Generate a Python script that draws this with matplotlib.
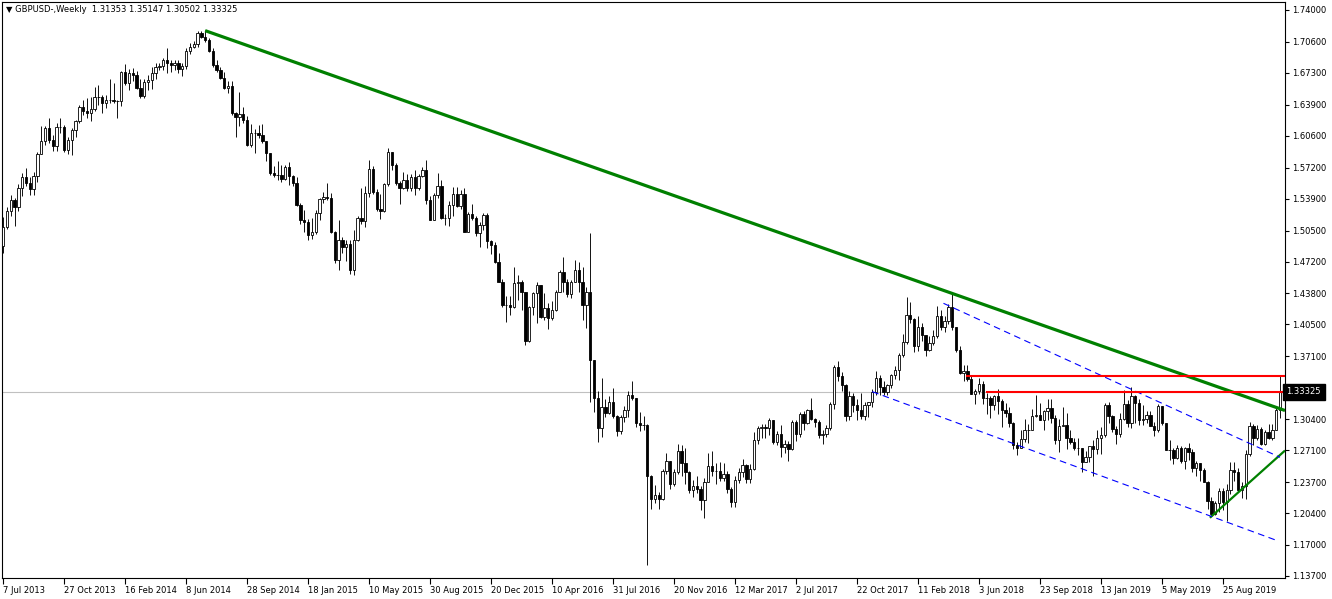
import numpy as np
import matplotlib
matplotlib.use('Agg')
import matplotlib.pyplot as plt
from matplotlib.transforms import blended_transform_factory

# GBPUSD weekly bars, first bar = week of 7 Jul 2013, last = week of 8 Dec 2019
first_open = 1.4885

closes = [
    1.5090, 1.5255, 1.5375, 1.5300, 1.5500, 1.5620, 1.5560, 1.5495, 1.5630, 1.5870,
    1.6000, 1.6140, 1.6015, 1.5950, 1.6155, 1.6150, 1.5910, 1.6015, 1.6120, 1.6215,
    1.6365, 1.6320, 1.6300, 1.6340, 1.6475, 1.6470, 1.6410, 1.6445, 1.6440, 1.6430,
    1.6430, 1.6740, 1.6620, 1.6725, 1.6710, 1.6570, 1.6480, 1.6635, 1.6655, 1.6725,
    1.6795, 1.6800, 1.6870, 1.6835, 1.6815, 1.6835, 1.6770, 1.6800, 1.6960, 1.7010,
    1.7035, 1.7150, 1.7115, 1.7080, 1.6960, 1.6815, 1.6765, 1.6675, 1.6565, 1.6590,
    1.6300, 1.6265, 1.6290, 1.6230, 1.5965, 1.6085, 1.6085, 1.6070, 1.6000, 1.5875,
    1.5660, 1.5645, 1.5640, 1.5595, 1.5730, 1.5630, 1.5555, 1.5325, 1.5160, 1.5145,
    1.5005, 1.5035, 1.5235, 1.5390, 1.5405, 1.5395, 1.5040, 1.4735, 1.4950, 1.4880,
    1.4905, 1.4630, 1.4950, 1.5180, 1.5150, 1.5450, 1.5710, 1.5465, 1.5285, 1.5255,
    1.5550, 1.5890, 1.5750, 1.5555, 1.5505, 1.5590, 1.5505, 1.5620, 1.5505, 1.5630,
    1.5695, 1.5380, 1.5165, 1.5430, 1.5520, 1.5185, 1.5180, 1.5320, 1.5440, 1.5310,
    1.5440, 1.5040, 1.5230, 1.5185, 1.5020, 1.5110, 1.5215, 1.4935, 1.4900, 1.4720,
    1.4505, 1.4260, 1.4260, 1.4240, 1.4490, 1.4505, 1.4400, 1.3870, 1.4235, 1.4380,
    1.4470, 1.4130, 1.4220, 1.4120, 1.4205, 1.4400, 1.4610, 1.4505, 1.4370, 1.4505,
    1.4630, 1.4505, 1.4260, 1.4400, 1.3670, 1.3265, 1.2945, 1.3175, 1.3105, 1.3225,
    1.3070, 1.2910, 1.3065, 1.3140, 1.3300, 1.3265, 1.3000, 1.2980, 1.2975, 1.2430,
    1.2190, 1.2230, 1.2190, 1.2485, 1.2600, 1.2345, 1.2475, 1.2700, 1.2570, 1.2480,
    1.2285, 1.2330, 1.2300, 1.2180, 1.2375, 1.2540, 1.2485, 1.2490, 1.2410, 1.2460,
    1.2300, 1.2160, 1.2395, 1.2480, 1.2550, 1.2400, 1.2515, 1.2820, 1.2945, 1.2960,
    1.2950, 1.3030, 1.2800, 1.2885, 1.2745, 1.2780, 1.2720, 1.3015, 1.2885, 1.3100,
    1.2995, 1.3135, 1.3040, 1.3010, 1.2875, 1.2880, 1.2945, 1.3200, 1.3600, 1.3500,
    1.3400, 1.3070, 1.3285, 1.3190, 1.3135, 1.3075, 1.3190, 1.3220, 1.3330, 1.3475,
    1.3380, 1.3335, 1.3400, 1.3510, 1.3565, 1.3720, 1.3860, 1.4150, 1.4110, 1.3820,
    1.4025, 1.3935, 1.3780, 1.3850, 1.3930, 1.4140, 1.4020, 1.4085, 1.4235, 1.4020,
    1.3775, 1.3530, 1.3550, 1.3465, 1.3310, 1.3340, 1.3410, 1.3270, 1.3265, 1.3195,
    1.3285, 1.3235, 1.3140, 1.3105, 1.3000, 1.2765, 1.2735, 1.2830, 1.2930, 1.2925,
    1.3070, 1.3085, 1.3035, 1.3130, 1.3160, 1.3050, 1.2815, 1.2970, 1.2975, 1.2835,
    1.2800, 1.2735, 1.2730, 1.2585, 1.2635, 1.2755, 1.2720, 1.2840, 1.2875, 1.3195,
    1.3070, 1.2940, 1.2885, 1.3045, 1.3200, 1.3000, 1.3290, 1.3210, 1.3030, 1.3045,
    1.3080, 1.2970, 1.2920, 1.3185, 1.3005, 1.2715, 1.2715, 1.2625, 1.2735, 1.2595,
    1.2730, 1.2695, 1.2525, 1.2575, 1.2495, 1.2375, 1.2165, 1.2030, 1.2145, 1.2280,
    1.2160, 1.2285, 1.2500, 1.2475, 1.2290, 1.2330, 1.2670, 1.2970, 1.2835, 1.2940,
    1.2775, 1.2900, 1.2835, 1.2930, 1.31353, 1.33325,
]

highs = [
    1.5195, 1.5300, 1.5430, 1.5400, 1.5550, 1.5660, 1.5715, 1.5625, 1.5675, 1.5890,
    1.6160, 1.6160, 1.6250, 1.6070, 1.6200, 1.6250, 1.6170, 1.6050, 1.6140, 1.6230,
    1.6385, 1.6445, 1.6460, 1.6475, 1.6580, 1.6600, 1.6495, 1.6495, 1.6660, 1.6620,
    1.6440, 1.6750, 1.6820, 1.6770, 1.6780, 1.6745, 1.6670, 1.6660, 1.6710, 1.6795,
    1.6840, 1.6840, 1.6885, 1.6995, 1.6865, 1.6870, 1.6870, 1.6835, 1.6990, 1.7045,
    1.7065, 1.7180, 1.7180, 1.7190, 1.7100, 1.6990, 1.6870, 1.6790, 1.6740, 1.6640,
    1.6640, 1.6310, 1.6525, 1.6370, 1.6270, 1.6185, 1.6130, 1.6175, 1.6190, 1.6000,
    1.5880, 1.5735, 1.5790, 1.5750, 1.5750, 1.5785, 1.5645, 1.5620, 1.5340, 1.5270,
    1.5175, 1.5180, 1.5270, 1.5400, 1.5465, 1.5555, 1.5450, 1.5050, 1.5165, 1.4985,
    1.4945, 1.4945, 1.5055, 1.5200, 1.5500, 1.5520, 1.5800, 1.5740, 1.5490, 1.5440,
    1.5560, 1.5930, 1.5890, 1.5770, 1.5580, 1.5670, 1.5650, 1.5650, 1.5690, 1.5650,
    1.5730, 1.5800, 1.5420, 1.5450, 1.5660, 1.5590, 1.5230, 1.5360, 1.5510, 1.5510,
    1.5480, 1.5500, 1.5250, 1.5335, 1.5200, 1.5140, 1.5240, 1.5240, 1.4950, 1.4925,
    1.4810, 1.4530, 1.4350, 1.4355, 1.4665, 1.4575, 1.4520, 1.4400, 1.4245, 1.4400,
    1.4500, 1.4460, 1.4390, 1.4280, 1.4300, 1.4420, 1.4630, 1.4770, 1.4530, 1.4520,
    1.4735, 1.4720, 1.4665, 1.4450, 1.5020, 1.3530, 1.3340, 1.3480, 1.3260, 1.3290,
    1.3370, 1.3090, 1.3080, 1.3185, 1.3345, 1.3445, 1.3270, 1.3120, 1.3070, 1.2985,
    1.2445, 1.2340, 1.2260, 1.2515, 1.2675, 1.2600, 1.2515, 1.2780, 1.2770, 1.2730,
    1.2485, 1.2390, 1.2430, 1.2330, 1.2415, 1.2675, 1.2705, 1.2570, 1.2580, 1.2570,
    1.2490, 1.2315, 1.2435, 1.2525, 1.2615, 1.2560, 1.2560, 1.2905, 1.2965, 1.2990,
    1.2990, 1.3050, 1.3030, 1.2910, 1.2975, 1.2815, 1.2810, 1.3030, 1.3030, 1.3115,
    1.3125, 1.3150, 1.3265, 1.3050, 1.3030, 1.2930, 1.2980, 1.3225, 1.3615, 1.3660,
    1.3540, 1.3415, 1.3340, 1.3320, 1.3260, 1.3320, 1.3225, 1.3225, 1.3365, 1.3550,
    1.3510, 1.3450, 1.3420, 1.3520, 1.3610, 1.3745, 1.3945, 1.4345, 1.4285, 1.4120,
    1.4145, 1.4070, 1.3930, 1.3930, 1.3995, 1.4245, 1.4200, 1.4145, 1.4265, 1.4377,
    1.4020, 1.3820, 1.3615, 1.3615, 1.3510, 1.3365, 1.3475, 1.3445, 1.3315, 1.3285,
    1.3300, 1.3365, 1.3260, 1.3215, 1.3175, 1.3010, 1.2800, 1.2930, 1.3045, 1.2990,
    1.3145, 1.3300, 1.3215, 1.3140, 1.3255, 1.3260, 1.3080, 1.3045, 1.3175, 1.3110,
    1.2925, 1.2840, 1.2840, 1.2670, 1.2705, 1.2760, 1.2815, 1.2930, 1.2960, 1.3215,
    1.3220, 1.3090, 1.2965, 1.3110, 1.3350, 1.3245, 1.3380, 1.3300, 1.3260, 1.3195,
    1.3130, 1.3125, 1.3015, 1.3200, 1.3175, 1.3005, 1.2815, 1.2735, 1.2765, 1.2760,
    1.2745, 1.2785, 1.2720, 1.2600, 1.2575, 1.2520, 1.2380, 1.2210, 1.2170, 1.2310,
    1.2310, 1.2350, 1.2580, 1.2580, 1.2520, 1.2375, 1.2710, 1.3010, 1.2990, 1.2975,
    1.2955, 1.2925, 1.2985, 1.2985, 1.3180, 1.35147,
]

lows = [
    1.4813, 1.5070, 1.5200, 1.5100, 1.5260, 1.5420, 1.5530, 1.5425, 1.5425, 1.5570,
    1.5880, 1.5960, 1.5980, 1.5900, 1.5900, 1.6090, 1.5890, 1.5870, 1.5855, 1.6050,
    1.6200, 1.6280, 1.6245, 1.6215, 1.6320, 1.6390, 1.6300, 1.6355, 1.6410, 1.6405,
    1.6250, 1.6380, 1.6600, 1.6545, 1.6640, 1.6560, 1.6460, 1.6460, 1.6550, 1.6560,
    1.6660, 1.6760, 1.6760, 1.6730, 1.6735, 1.6760, 1.6730, 1.6695, 1.6770, 1.6935,
    1.6995, 1.7010, 1.7100, 1.7060, 1.6950, 1.6790, 1.6740, 1.6660, 1.6560, 1.6520,
    1.6280, 1.6050, 1.6160, 1.6200, 1.5950, 1.5940, 1.5875, 1.6040, 1.5980, 1.5790,
    1.5640, 1.5620, 1.5590, 1.5570, 1.5585, 1.5540, 1.5525, 1.5310, 1.5125, 1.5035,
    1.4950, 1.4965, 1.5010, 1.5160, 1.5340, 1.5375, 1.5020, 1.4700, 1.4630, 1.4810,
    1.4730, 1.4590, 1.4580, 1.4940, 1.5120, 1.5090, 1.5410, 1.5440, 1.5260, 1.5170,
    1.5250, 1.5530, 1.5700, 1.5540, 1.5330, 1.5490, 1.5470, 1.5470, 1.5430, 1.5480,
    1.5620, 1.5330, 1.5160, 1.5160, 1.5400, 1.5170, 1.5110, 1.5100, 1.5200, 1.5300,
    1.5280, 1.5030, 1.5030, 1.5160, 1.4990, 1.4880, 1.5060, 1.4865, 1.4805, 1.4700,
    1.4500, 1.4235, 1.4080, 1.4150, 1.4230, 1.4310, 1.4205, 1.3835, 1.3860, 1.4150,
    1.4060, 1.4120, 1.4100, 1.4005, 1.4100, 1.4190, 1.4400, 1.4400, 1.4340, 1.4335,
    1.4500, 1.4400, 1.4100, 1.4015, 1.3225, 1.3120, 1.2800, 1.2855, 1.3060, 1.3100,
    1.3050, 1.2865, 1.2880, 1.3010, 1.3060, 1.3240, 1.2960, 1.2915, 1.2920, 1.1490,
    1.2085, 1.2145, 1.2085, 1.2180, 1.2455, 1.2300, 1.2330, 1.2460, 1.2430, 1.2355,
    1.2255, 1.2215, 1.2250, 1.2070, 1.1990, 1.2370, 1.2430, 1.2345, 1.2385, 1.2380,
    1.2250, 1.2110, 1.2110, 1.2360, 1.2420, 1.2365, 1.2365, 1.2500, 1.2775, 1.2840,
    1.2845, 1.2870, 1.2775, 1.2770, 1.2635, 1.2680, 1.2590, 1.2710, 1.2810, 1.2850,
    1.2930, 1.2985, 1.3030, 1.2955, 1.2840, 1.2775, 1.2850, 1.2920, 1.3150, 1.3450,
    1.3340, 1.3025, 1.3030, 1.3120, 1.3030, 1.3040, 1.3035, 1.3060, 1.3175, 1.3300,
    1.3300, 1.3300, 1.3300, 1.3370, 1.3470, 1.3460, 1.3700, 1.3840, 1.4060, 1.3760,
    1.3765, 1.3875, 1.3710, 1.3765, 1.3830, 1.3910, 1.3990, 1.3965, 1.4050, 1.3990,
    1.3760, 1.3520, 1.3450, 1.3445, 1.3305, 1.3205, 1.3310, 1.3205, 1.3100, 1.3050,
    1.3140, 1.3100, 1.2955, 1.3060, 1.2955, 1.2725, 1.2660, 1.2735, 1.2795, 1.2785,
    1.2920, 1.3060, 1.3030, 1.2920, 1.3035, 1.3005, 1.2780, 1.2695, 1.2965, 1.2725,
    1.2780, 1.2715, 1.2660, 1.2475, 1.2580, 1.2580, 1.2440, 1.2665, 1.2670, 1.2850,
    1.3000, 1.2900, 1.2775, 1.2855, 1.3030, 1.2960, 1.2945, 1.3005, 1.2975, 1.2975,
    1.3000, 1.2965, 1.2865, 1.2905, 1.2975, 1.2710, 1.2605, 1.2560, 1.2620, 1.2575,
    1.2505, 1.2605, 1.2480, 1.2440, 1.2380, 1.2370, 1.2080, 1.2015, 1.2015, 1.2055,
    1.2070, 1.1960, 1.2240, 1.2380, 1.2270, 1.2205, 1.2195, 1.2650, 1.2770, 1.2820,
    1.2765, 1.2770, 1.2825, 1.2820, 1.2920, 1.30502,
]

date_labels = ['7 Jul 2013', '27 Oct 2013', '16 Feb 2014', '8 Jun 2014',
               '28 Sep 2014', '18 Jan 2015', '10 May 2015', '30 Aug 2015',
               '20 Dec 2015', '10 Apr 2016', '31 Jul 2016', '20 Nov 2016',
               '12 Mar 2017', '2 Jul 2017', '22 Oct 2017', '11 Feb 2018',
               '3 Jun 2018', '23 Sep 2018', '13 Jan 2019', '5 May 2019',
               '25 Aug 2019']
price_ticks = [1.74, 1.706, 1.673, 1.639, 1.606, 1.572, 1.539, 1.505, 1.472,
               1.438, 1.405, 1.371, 1.338, 1.304, 1.271, 1.237, 1.204, 1.17,
               1.137]

# drawn objects: (bar index, price)
main_trend = [(53, 1.7180), (249, 1.4380)]
support_trend = [(316.6, 1.1990), (325.4, 1.2310)]
chan_upper = [(246.7, 1.4275), (335.0, 1.2634)]
chan_lower = [(228.0, 1.3334), (334.5, 1.1743)]
red_levels = [(252.9, 1.3500), (258.0, 1.3325)]

closes = np.array(closes)
opens = np.r_[first_open, closes[:-1]]
highs = np.maximum(np.array(highs), np.maximum(opens, closes))
lows = np.minimum(np.array(lows), np.minimum(opens, closes))
last_o, last_h, last_l, last_c = opens[-1], highs[-1], lows[-1], closes[-1]

W, H = 1332, 599
fig = plt.figure(figsize=(W / 100, H / 100), dpi=100)
ax = fig.add_axes([2 / W, 21 / H, 1283 / W, 576 / H])

x_left, x_right = -0.3, 336.3
ax.set_xlim(x_left, x_right)
ax.set_ylim(1.13484, 1.74852)

x = np.arange(len(closes))
up = closes >= opens
ax.axhline(last_c, color='#c0c0c0', lw=0.8, zorder=1)
ax.vlines(x, lows, highs, color='black', lw=0.65, zorder=2)
ax.bar(x[up], (closes - opens)[up], bottom=opens[up], width=0.62,
       color='white', edgecolor='black', linewidth=0.6, zorder=3)
ax.bar(x[~up], (closes - opens)[~up], bottom=opens[~up], width=0.62,
       color='black', edgecolor='black', linewidth=0.6, zorder=3)


def ray(p0, p1, x_end):
    (x0, y0), (x1, y1) = p0, p1
    slope = (y1 - y0) / (x1 - x0)
    return [x0, x_end], [y0, y0 + slope * (x_end - x0)]


xs, ys = ray(main_trend[0], main_trend[1], x_right)
ax.plot(xs, ys, color='#008000', lw=2.3, zorder=4, solid_capstyle='butt')
xs, ys = ray(support_trend[0], support_trend[1], x_right)
ax.plot(xs, ys, color='#008000', lw=1.6, zorder=4, solid_capstyle='butt')

for (x0, y0), (x1, y1) in (chan_upper, chan_lower):
    ax.plot([x0, x1], [y0, y1], color='#0000ff', lw=0.8,
            ls=(0, (6, 4)), zorder=4)

for x0, lvl in red_levels:
    ax.plot([x0, x_right], [lvl, lvl], color='#ff0000', lw=1.5, zorder=4)

# axes, ticks and labels in MT4 style
for sp in ax.spines.values():
    sp.set_color('black')
    sp.set_linewidth(0.8)

# the 1.33800 scale label sits under the current-price marker, so only its tick shows
hidden_price = 1.338
ax.yaxis.tick_right()
ax.set_yticks(price_ticks)
ax.set_yticklabels(['' if p == hidden_price else '%.5f' % p
                    for p in price_ticks])
ax.tick_params(axis='y', direction='out', length=3, width=0.8, pad=2,
               labelsize=6, colors='black')

ax.set_xticks(np.arange(0, 16 * len(date_labels), 16))
ax.set_xticklabels(date_labels)
ax.tick_params(axis='x', direction='out', length=4, width=0.8, pad=1.5,
               labelsize=6, colors='black')
for lab in ax.get_xticklabels():
    lab.set_ha('left')

trans = blended_transform_factory(ax.transAxes, ax.transData)
ax.text(1.0012, last_c, '%.5f' % last_c, transform=trans, ha='left',
        va='center', color='white', fontsize=6, zorder=10,
        bbox=dict(boxstyle='square,pad=0.45', fc='black', ec='black'))

fig.text(6 / W, 1 - 10 / H,
         '\u25bc GBPUSD-,Weekly  %.5f %.5f %.5f %.5f'
         % (last_o, last_h, last_l, last_c),
         fontsize=6, va='center', ha='left', color='black')

fig.savefig('out.png', dpi=100, facecolor='white')
